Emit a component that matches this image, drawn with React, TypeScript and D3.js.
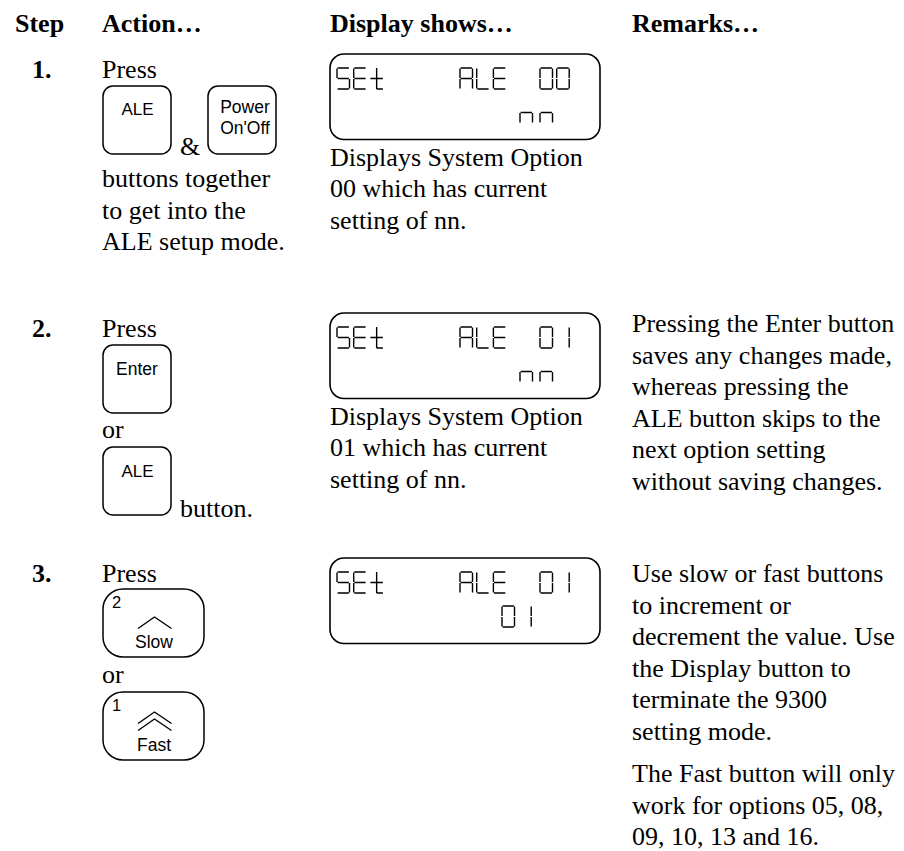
import React from 'react'
import * as d3 from 'd3'

// headings and step labels
const headings = ['Step', 'Action…', 'Display shows…', 'Remarks…']
const stepLabels = ['1.', '2.', '3.']

// action column texts
const action1 = ['buttons together', 'to get into the', 'ALE setup mode.']
const buttonLabels = {
  ale: ['ALE'],
  power: ['Power', "On'Off"],
  enter: ['Enter'],
  slow: ['2', 'Slow'],
  fast: ['1', 'Fast'],
}

// LCD contents: words on the first row, value on the second row
const displayWords = [
  ['SEt', 'ALE', '00'],
  ['SEt', 'ALE', '01'],
  ['SEt', 'ALE', '01'],
]
const displayValues = ['nn', 'nn', '01']
const displayNotes = [
  ['Displays System Option', '00 which has current', 'setting of nn.'],
  ['Displays System Option', '01 which has current', 'setting of nn.'],
  [],
]

// remarks
const remarks2 = [
  'Pressing the Enter button',
  'saves any changes made,',
  'whereas pressing the',
  'ALE button skips to the',
  'next option setting',
  'without saving changes.',
]
const remarks3a = [
  'Use slow or fast buttons',
  'to increment or',
  'decrement the value. Use',
  'the Display button to',
  'terminate the 9300',
  'setting mode.',
]
const remarks3b = ['The Fast button will only', 'work for options 05, 08,', '09, 10, 13 and 16.']

const SERIF = '"Liberation Serif", "Times New Roman", serif'
const SANS = '"Liberation Sans", Arial, sans-serif'
const LH = 31.6

const SEGS: Record<string, string> = {
  S: 'afgcd',
  E: 'afged',
  A: 'abcefg',
  L: 'fed',
  '0': 'abcdef',
  '1': 'bc',
  n: 'ceg',
}

// one LCD character drawn as segments
const glyphPath = (ch: string, x: number, y: number, w = 12.5, h = 21) => {
  const p = d3.path()
  const g = 0.6
  const ym = y + h / 2
  const seg = (x0: number, y0: number, x1: number, y1: number) => {
    p.moveTo(x0, y0)
    p.lineTo(x1, y1)
  }
  if (ch === 't') {
    const xs = x + w / 2
    seg(xs, y, xs, y + h)
    seg(x, ym, x + w, ym)
    seg(xs, y + h, x + w, y + h)
    return p.toString()
  }
  const s = SEGS[ch] || ''
  if (s.includes('a')) seg(x + g, y, x + w - g, y)
  if (s.includes('b')) seg(x + w, y + g, x + w, ym - g)
  if (s.includes('c')) seg(x + w, ym + g, x + w, y + h - g)
  if (s.includes('d')) seg(x + g, y + h, x + w - g, y + h)
  if (s.includes('e')) seg(x, ym + g, x, y + h - g)
  if (s.includes('f')) seg(x, y + g, x, ym - g)
  if (s.includes('g')) seg(x + g, ym, x + w - g, ym)
  return p.toString()
}

const lcdText = (text: string, x: number, y: number, pitch = 16.7) =>
  text.split('').map((c, i) => glyphPath(c, x + i * pitch, y)).join('')

const Lines = ({ lines, x, y }: { lines: string[]; x: number; y: number }) => (
  <g>
    {lines.map((t, i) => (
      <text key={i} x={x} y={y + i * LH}>{t}</text>
    ))}
  </g>
)

const Display = ({ idx, top }: { idx: number; top: number }) => {
  const wordX = [337, 460, 540]
  const valueX = [520, 520, 502]
  const valuePitch = [20, 20, 16.7]
  const d =
    displayWords[idx].map((w, i) => lcdText(w, wordX[i], top + 14)).join('') +
    lcdText(displayValues[idx], valueX[idx], top + 48, valuePitch[idx])
  return (
    <g>
      <rect x={330} y={top} width={270} height={85.5} rx={14} fill="none" stroke="#000" strokeWidth={1.6} />
      <path d={d} fill="none" stroke="#000" strokeWidth={1.4} />
      <Lines lines={displayNotes[idx]} x={330} y={top + 111.5} />
    </g>
  )
}

const KeyBox = ({ x, y, w, r }: { x: number; y: number; w: number; r: number }) => (
  <rect x={x} y={y} width={w} height={68} rx={r} fill="#fff" stroke="#000" strokeWidth={1.5} />
)

const chevron = d3.line<[number, number]>()

const ArrowKey = ({ y, labels, n }: { y: number; labels: string[]; n: number }) => (
  <g>
    <KeyBox x={103} y={y} w={101} r={20} />
    <text x={112} y={y + 19} fontFamily={SANS} fontSize={16.5}>{labels[0]}</text>
    {d3.range(n).map((k) => {
      const off = n === 1 ? 28 : 20 + k * 7
      return (
        <path
          key={k}
          d={chevron([[138, y + off + 11.5], [154.5, y + off], [171.5, y + off + 11.5]]) || ''}
          fill="none"
          stroke="#000"
          strokeWidth={1.4}
        />
      )
    })}
    <text x={154} y={y + 58.5} fontFamily={SANS} fontSize={17.5} textAnchor="middle">{labels[1]}</text>
  </g>
)

export default function App() {
  const headX = [15, 102, 330, 632]
  return (
    <svg
      width={904}
      height={851}
      style={{ position: 'absolute', left: 0, top: 0, display: 'block', background: '#fff' }}
      fontFamily={SERIF}
      fontSize={26}
    >
      {headings.map((h, i) => (
        <text key={h} x={headX[i]} y={32} fontWeight="bold">{h}</text>
      ))}
      {stepLabels.map((s, i) => (
        <text key={s} x={32} y={[78, 337, 582][i]} fontWeight="bold">{s}</text>
      ))}

      {/* step 1 */}
      <text x={102} y={78}>Press</text>
      <KeyBox x={103} y={86} w={68} r={10} />
      <text x={137.5} y={115} fontFamily={SANS} fontSize={17} textAnchor="middle">{buttonLabels.ale[0]}</text>
      <text x={180} y={155}>&amp;</text>
      <KeyBox x={208} y={86} w={68} r={10} />
      {buttonLabels.power.map((t, i) => (
        <text key={t} x={245} y={113 + i * 21} fontFamily={SANS} fontSize={17.5} textAnchor="middle">{t}</text>
      ))}
      <Lines lines={action1} x={102} y={187} />
      <Display idx={0} top={54} />

      {/* step 2 */}
      <text x={102} y={337}>Press</text>
      <KeyBox x={103} y={345} w={68} r={10} />
      <text x={137} y={375} fontFamily={SANS} fontSize={17.5} textAnchor="middle">{buttonLabels.enter[0]}</text>
      <text x={102} y={438}>or</text>
      <KeyBox x={103} y={447} w={68} r={10} />
      <text x={137.5} y={476.5} fontFamily={SANS} fontSize={17} textAnchor="middle">{buttonLabels.ale[0]}</text>
      <text x={180} y={517}>button.</text>
      <Display idx={1} top={313} />
      <Lines lines={remarks2} x={632} y={332} />

      {/* step 3 */}
      <text x={102} y={582}>Press</text>
      <ArrowKey y={589} labels={buttonLabels.slow} n={1} />
      <text x={102} y={683}>or</text>
      <ArrowKey y={692} labels={buttonLabels.fast} n={2} />
      <Display idx={2} top={558} />
      <Lines lines={remarks3a} x={632} y={582} />
      <Lines lines={remarks3b} x={632} y={782} />
    </svg>
  )
}
